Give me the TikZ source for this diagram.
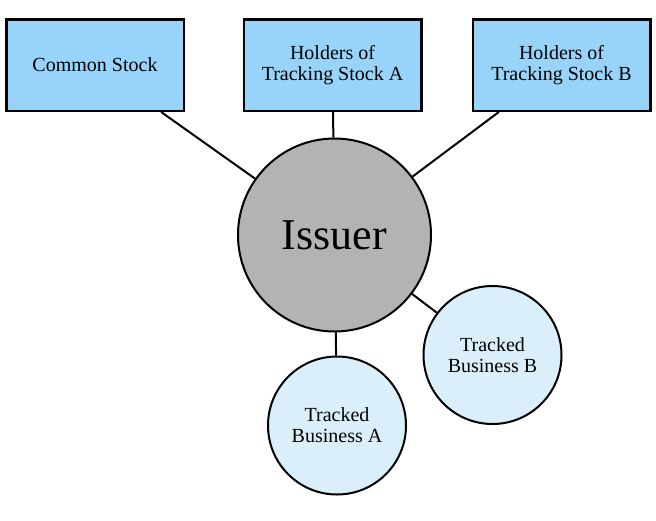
\documentclass[tikz,border=0pt]{standalone}
\usepackage{fontspec}
\setmainfont{Liberation Serif}
\definecolor{boxblue}{HTML}{98D3FA}
\definecolor{issuergray}{HTML}{B3B3B3}
\definecolor{trackblue}{HTML}{DAEFF9}
\begin{document}
\begin{tikzpicture}[x=1pt,y=-1pt,
  holderbox/.style={draw=black,line width=2.5pt,fill=boxblue,rectangle,minimum width=177.5pt,minimum height=91.5pt,inner sep=0pt,align=center,font=\fontsize{20}{21}\selectfont},
  issuernode/.style={draw=black,line width=2pt,fill=issuergray,circle,minimum size=193pt,inner sep=0pt,font=\fontsize{44}{48}\selectfont},
  trackednode/.style={draw=black,line width=2pt,fill=trackblue,circle,minimum size=138pt,inner sep=0pt,align=center,font=\fontsize{20}{21}\selectfont},
  link/.style={draw=black,line width=2pt}]
\useasboundingbox (0,0) rectangle (656,520);
\node[holderbox] (common) at (95,65) {Common Stock};
\node[holderbox] (holdA) at (332.5,65) {Holders of\\Tracking Stock A};
\node[holderbox] (holdB) at (561.5,65) {Holders of\\Tracking Stock B};
\node[issuernode] (issuer) at (334.5,235) {Issuer};
\node[trackednode] (trackB) at (492.5,355) {Tracked\\Business B};
\node[trackednode] (trackA) at (337,425.5) {Tracked\\Business A};
\draw[link] (issuer) -- (common);
\draw[link] (issuer) -- (holdA);
\draw[link] (issuer) -- (holdB);
\draw[link] (issuer) -- (trackB);
\draw[link] (issuer) -- (trackA);
\end{tikzpicture}
\end{document}
